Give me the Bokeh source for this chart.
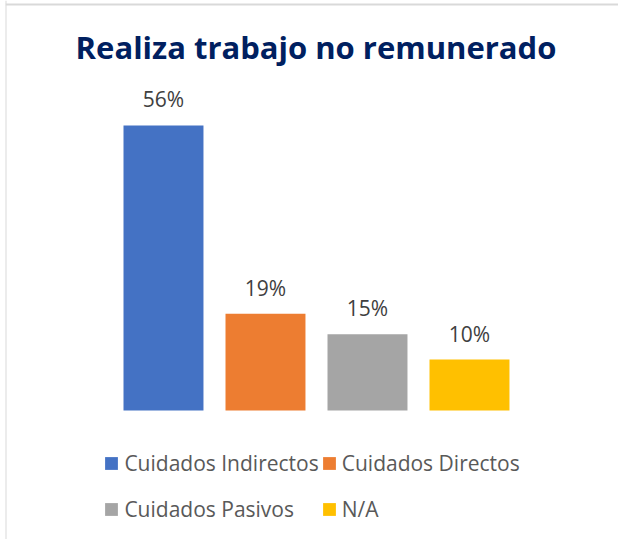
from bokeh.plotting import figure
from bokeh.models import (ColumnDataSource, FactorRange, Range1d, Label, Legend,
                          LegendItem, Span)
from bokeh.transform import dodge
from bokeh.embed import file_html
from bokeh.resources import INLINE
from bokeh.core.properties import value

# ---- data ----
categories = ["Cuidados Indirectos", "Cuidados Directos", "Cuidados Pasivos", "N/A"]
values = [56, 19, 15, 10]
labels = ["56%", "19%", "15%", "10%"]
colors = ["#4472C4", "#ED7D31", "#A5A5A5", "#FFC000"]
title_text = "Realiza trabajo no remunerado"

FONT = "Open Sans"

source = ColumnDataSource(dict(cat=categories, val=values, lab=labels, col=colors))

xr = FactorRange(factors=categories, range_padding=1.0049, range_padding_units="absolute")
p = figure(width=618, height=539, output_backend="svg", toolbar_location=None,
           x_range=xr, y_range=Range1d(-25.34, 80.55),
           min_border=0, min_border_left=5, min_border_right=0,
           min_border_top=0, min_border_bottom=0)
p.xaxis.visible = False
p.yaxis.visible = False
p.grid.visible = False
p.outline_line_color = None
p.background_fill_color = "white"
p.border_fill_color = "white"

xpos = dodge("cat", 0.044, range=xr)

r = p.vbar(x=xpos, top="val", bottom=0, width=0.784, fill_color="col",
           line_color=None, source=source)

p.text(x=xpos, y="val", text="lab", source=source, text_align="center",
       text_baseline="alphabetic", y_offset=-26, text_font=value(FONT),
       text_font_size="21px", text_color="#404040")

p.add_layout(Label(x=310.5, y=493, x_units="screen", y_units="screen",
                   text=title_text, text_align="center", text_baseline="alphabetic",
                   text_font=FONT, text_font_size="31px", text_font_style="bold",
                   text_color="#002060"))

# chart-area border (left and top)
p.add_layout(Span(location=0, location_units="screen", dimension="height",
                  line_color="#D9D9D9", line_width=2))
p.add_layout(Span(location=535, location_units="screen", dimension="width",
                  line_color="#D9D9D9", line_width=2))

order = [0, 2, 1, 3]  # legend fills column by column
items = [LegendItem(label=categories[i], renderers=[r], index=i) for i in order]
legend = Legend(items=items, ncols=2, location=(98.4, 8),
                glyph_width=16, glyph_height=16, label_standoff=5,
                label_height=44, spacing=2, padding=0, margin=0,
                border_line_color=None, background_fill_alpha=0,
                label_text_font=FONT, label_text_font_size="21px",
                label_text_color="#595959")
p.add_layout(legend)

open("out.html", "w").write(file_html(p, INLINE))
